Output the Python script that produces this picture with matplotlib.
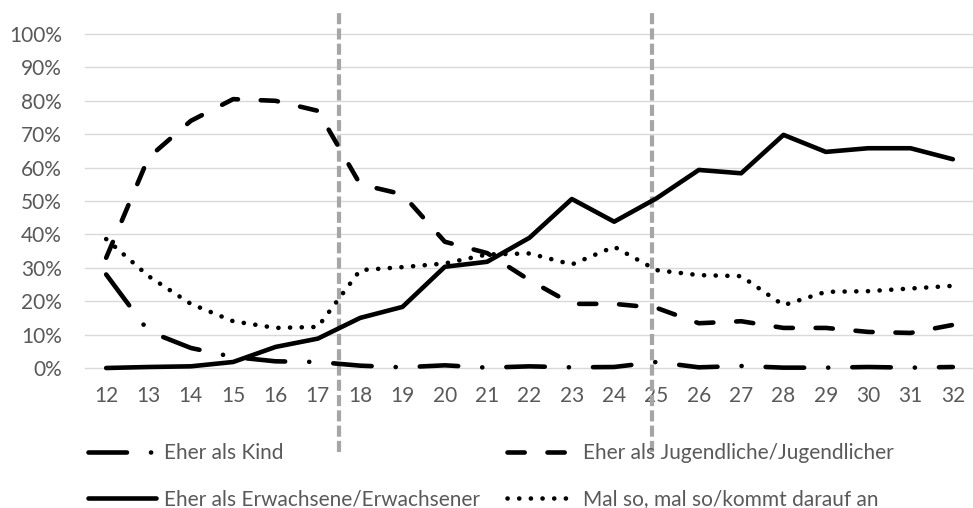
import matplotlib
matplotlib.use("Agg")
import matplotlib.pyplot as plt
from matplotlib.ticker import PercentFormatter

plt.rcParams['font.family'] = ['Lato', 'DejaVu Sans']
plt.rcParams['lines.scale_dashes'] = False

# ---- data ----
ages = [12, 13, 14, 15, 16, 17, 18, 19, 20, 21, 22, 23, 24, 25, 26, 27, 28, 29, 30, 31, 32]
kind = [28, 11, 6, 3.3, 2, 1.8, 0.7, 0.2, 0.8, 0.1, 0.5, 0.2, 0.3, 1.8, 0.2, 0.6, 0.1, 0.1, 0.3, 0.1, 0.3]
jugendliche = [33, 63, 74, 80.5, 80, 77, 55, 52, 37.8, 34.4, 26.3, 19.2, 19.2, 18, 13.4, 14, 12, 12, 10.8, 10.5, 12.9]
erwachsene = [0, 0.3, 0.5, 1.8, 6.3, 8.8, 15, 18.3, 30.3, 31.8, 39, 50.6, 43.8, 50.8, 59.3, 58.3, 69.8, 64.7, 65.8, 65.8, 62.5]
malso = [38.6, 27.5, 19.2, 14, 12, 12.3, 29.3, 30.2, 31.3, 34, 34.3, 31, 36.3, 29.3, 27.8, 27.5, 18.8, 22.8, 23, 23.8, 24.6]
labels = ["Eher als Kind", "Eher als Jugendliche/Jugendlicher",
          "Eher als Erwachsene/Erwachsener", "Mal so, mal so/kommt darauf an"]
marker_ages = [17.5, 24.9]
yticks = [0, 10, 20, 30, 40, 50, 60, 70, 80, 90, 100]

W, H = 973, 508
fig = plt.figure(figsize=(W / 100, H / 100), dpi=100)
ax = fig.add_axes([85 / W, (H - 368) / H, (974 - 85) / W, (368 - 34) / H])

lw = 3.3
common = dict(color='black', lw=lw, clip_on=False, zorder=3,
              dash_capstyle='round', solid_capstyle='round', solid_joinstyle='round',
              dash_joinstyle='round')
l_kind, = ax.plot(ages, kind, dashes=(27.7, 17.3, 0.1, 17.3), **common)
l_jug, = ax.plot(ages, jugendliche, dashes=(12.4, 16.4), **common)
l_erw, = ax.plot(ages, erwachsene, **common)
l_mal, = ax.plot(ages, malso, dashes=(0.1, 8.3), **common)

for xv in marker_ages:
    ax.axvline(xv, ymin=-0.251, ymax=1.075, color='#a6a6a6', lw=3.0,
               dashes=(8.0, 3.0), clip_on=False, zorder=2)

ax.set_xlim(11.5, 32.5)
ax.set_ylim(0, 100)
ax.set_xticks(ages)
ax.set_xticklabels([str(a) for a in ages])
ax.set_yticks(yticks)
ax.yaxis.set_major_formatter(PercentFormatter(decimals=0))
ax.grid(axis='y', color='#d9d9d9', lw=1.0, zorder=1)
for gl in ax.get_ygridlines():
    gl.set_clip_on(False)
ax.set_axisbelow(True)
for s in ax.spines.values():
    s.set_visible(False)
ax.tick_params(axis='both', length=0, labelsize=15, labelcolor='#595959')
ax.tick_params(axis='y', pad=16.5)
ax.tick_params(axis='x', pad=13)

leg_kw = dict(loc='upper left', frameon=False, fontsize=15, handlelength=3.27,
              handletextpad=0.38, borderpad=0, borderaxespad=0, labelspacing=1.25,
              labelcolor='#595959')
leg1 = fig.legend([l_kind, l_erw], [labels[0], labels[2]],
                  bbox_to_anchor=(88 / W, 1 - 443 / H), **leg_kw)
leg2 = fig.legend([l_jug, l_mal], [labels[1], labels[3]],
                  bbox_to_anchor=(507 / W, 1 - 443 / H), **leg_kw)

fig.savefig("out.png", dpi=100)
